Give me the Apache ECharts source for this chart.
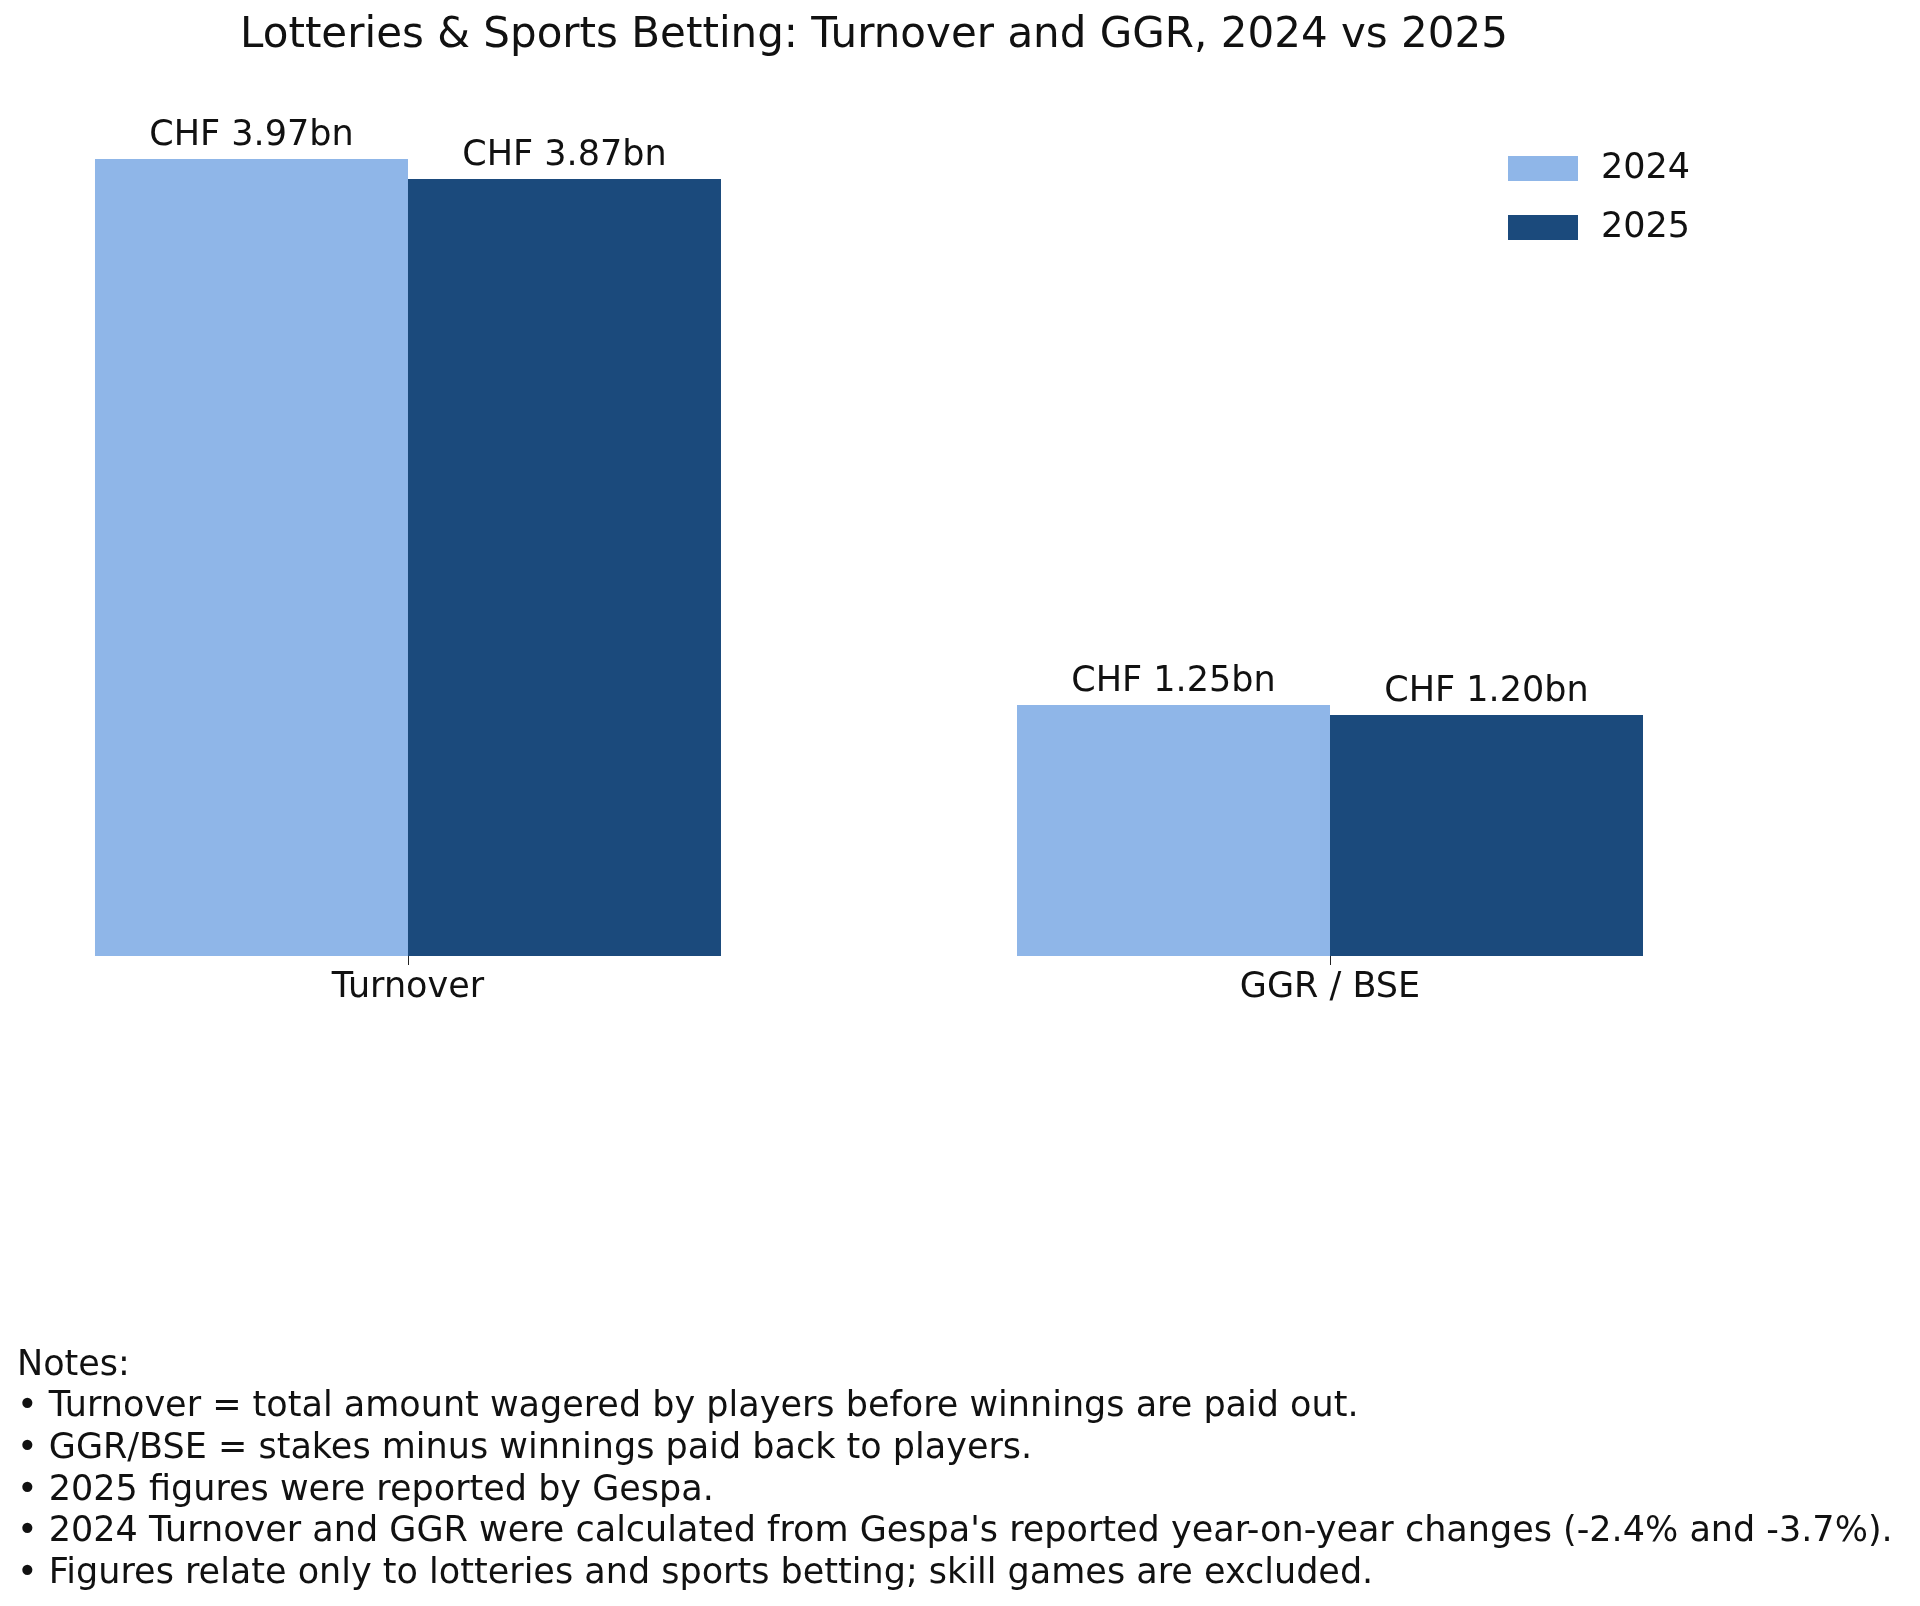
<!DOCTYPE html>
<html><head><meta charset="utf-8">
<script src="https://cdn.jsdelivr.net/npm/echarts@6/dist/echarts.min.js"></script>
<style>html,body{margin:0;padding:0;background:#fff}#c{width:1920px;height:1606px}</style>
</head><body><div id="c"></div>
<script>
const categories = ['Turnover', 'GGR / BSE'];
const years = ['2024', '2025'];
const values2024 = [3.97, 1.25];
const values2025 = [3.87, 1.20];
const titleText = 'Lotteries & Sports Betting: Turnover and GGR, 2024 vs 2025';
const notes = [
  'Notes:',
  '• Turnover = total amount wagered by players before winnings are paid out.',
  '• GGR/BSE = stakes minus winnings paid back to players.',
  '• 2025 figures were reported by Gespa.',
  "• 2024 Turnover and GGR were calculated from Gespa's reported year-on-year changes (-2.4% and -3.7%).",
  '• Figures relate only to lotteries and sports betting; skill games are excluded.'
];
const F = 'DejaVu Sans';
const chart = echarts.init(document.getElementById('c'));
const lbl = {show:true, position:'top', distance:6, fontFamily:F, fontSize:35, color:'#111',
  formatter: p => 'CHF ' + p.value[1].toFixed(2) + 'bn'};
const idx = categories.map((c,i)=>i);
chart.setOption({
  animation:false,
  title:{text:titleText, left:869, top:10, textAlign:'center',
    textStyle:{fontFamily:F, fontSize:42, fontWeight:'normal', color:'#111'}},
  legend:{data:years, left:1503, top:146, orient:'vertical', itemWidth:70, itemHeight:25, itemGap:24,
    icon:'rect', textStyle:{fontFamily:F, fontSize:35, lineHeight:30, color:'#111', padding:[0,0,0,18]}},
  grid:{left:0, right:0, top:153, bottom:650, containLabel:false},
  xAxis:{type:'value', min:-0.4425, max:1.6399, splitLine:{show:false}, axisLine:{show:false},
    axisTick:{show:true, customValues:idx, length:9, lineStyle:{color:'#222'}},
    axisLabel:{customValues:idx, fontFamily:F, fontSize:35, color:'#111', margin:14,
      formatter: v => categories[Math.round(v)]}},
  yAxis:{type:'value', min:0, max:4.0, show:false, splitLine:{show:false}},
  series:[
    {name:'2024', type:'bar', data:idx.map(i=>[i, values2024[i]]), barWidth:313, barGap:'0%', itemStyle:{color:'#8FB6E8'}, label:lbl},
    {name:'2025', type:'bar', data:idx.map(i=>[i, values2025[i]]), barWidth:313, barGap:'0%', itemStyle:{color:'#1B4A7C'}, label:lbl}
  ],
  graphic:[{type:'text', left:17, top:1345,
    style:{text:notes.join('\n'), fontFamily:F, fontSize:35, lineHeight:41.6, fill:'#111'}}]
});
</script></body></html>
